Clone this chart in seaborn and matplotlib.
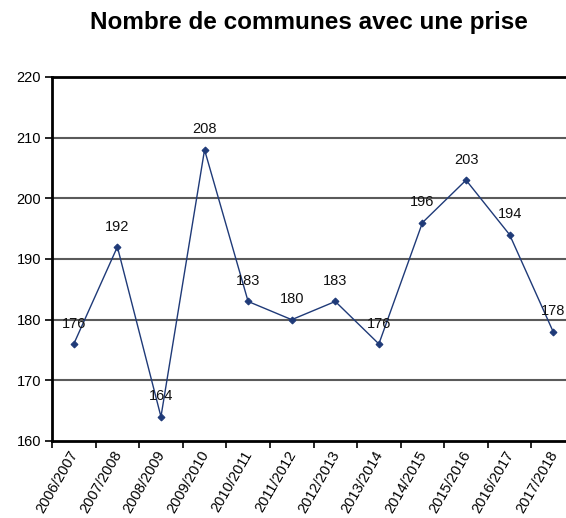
import matplotlib
matplotlib.use("Agg")
import matplotlib.pyplot as plt
import matplotlib.transforms as mtransforms
import seaborn as sns
import numpy as np
import pandas as pd

seasons = ["2006/2007", "2007/2008", "2008/2009", "2009/2010", "2010/2011", "2011/2012",
           "2012/2013", "2013/2014", "2014/2015", "2015/2016", "2016/2017", "2017/2018"]
communes = [176, 192, 164, 208, 183, 180, 183, 176, 196, 203, 194, 178]
y_ticks = [160, 170, 180, 190, 200, 210, 220]
title = "Nombre de communes avec une prise"

sns.set_theme(style="white")
plt.rcParams['font.family'] = ['Liberation Sans', 'DejaVu Sans']
plt.rcParams['text.color'] = 'black'
plt.rcParams['xtick.color'] = 'black'
plt.rcParams['ytick.color'] = 'black'

df = pd.DataFrame({"pos": np.arange(len(seasons)), "val": communes})

fig = plt.figure(figsize=(5.66, 5.18), dpi=100)
ax = fig.add_axes([52/566, (518-441)/518, 523/566, (441-77)/518])

for yv in y_ticks[1:-1]:
    ax.axhline(yv, color="#5a5a5a", lw=1.5, zorder=1)

sns.lineplot(data=df, x="pos", y="val", ax=ax, color="#1f3a78", lw=1.0,
             marker="D", markersize=3.5, markeredgecolor="#1f3a78", zorder=3)

for x, v in zip(df["pos"], df["val"]):
    ax.text(x, v + 2.2, str(v), ha="center", va="bottom", fontsize=10.5, color="#111111", zorder=4)

ax.set_xlim(-0.5, len(seasons) - 0.5)
ax.set_ylim(160, 220)
ax.set_yticks(y_ticks)
ax.set_yticklabels([str(t) for t in y_ticks], fontsize=10.5)
ax.tick_params(axis="y", direction="out", length=5, width=1.2, color="black", pad=3, left=True)

ax.set_xticks(np.arange(len(seasons)))
ax.set_xticklabels(seasons, rotation=60, ha="right", rotation_mode="anchor", fontsize=10.5)
ax.tick_params(axis="x", which="major", length=0, pad=5)
offset = mtransforms.ScaledTranslation(-5/100, 0, fig.dpi_scale_trans)
for lbl in ax.get_xticklabels():
    lbl.set_transform(lbl.get_transform() + offset)
ax.set_xticks(np.arange(-0.5, len(seasons) + 0.5, 1), minor=True)
ax.tick_params(axis="x", which="minor", direction="out", length=5, width=1.2, color="black", bottom=True)

ax.set_xlabel("")
ax.set_ylabel("")
for s in ["left", "bottom", "top"]:
    ax.spines[s].set_visible(True)
    ax.spines[s].set_color("black")
    ax.spines[s].set_linewidth(2)
ax.spines["right"].set_visible(False)
ax.grid(False)

fig.text(309/566, 1 - 22/518, title, ha="center", va="center", fontsize=17.5,
         fontweight="bold", color="black")

fig.savefig("out.png", dpi=100)
